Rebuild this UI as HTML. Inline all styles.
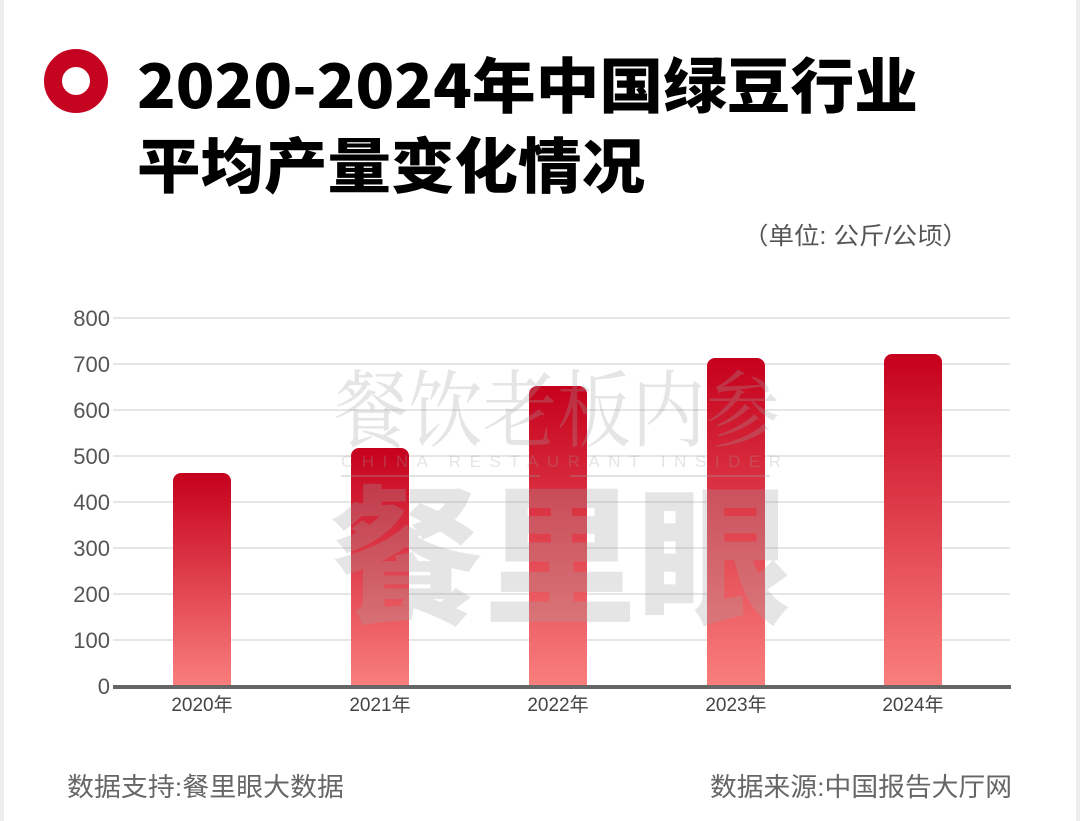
<!DOCTYPE html>
<html><head><meta charset="utf-8"><style>
html,body{margin:0;padding:0;background:#fff;}
svg{display:block;}
text{font-family:"Liberation Sans","Noto Sans CJK SC",sans-serif;}
</style></head><body>
<svg width="1080" height="821" viewBox="0 0 1080 821" xmlns="http://www.w3.org/2000/svg">
<defs>
<linearGradient id="g" x1="0" y1="0" x2="0" y2="1">
<stop offset="0" stop-color="#c6001c"/>
<stop offset="1" stop-color="#f97f7d"/>
</linearGradient>
</defs>
<rect width="1080" height="821" fill="#fff"/>
<rect x="0" y="0" width="4" height="821" fill="#eeeeee"/>
<rect x="1076" y="0" width="4" height="821" fill="#eeeeee"/>
<circle cx="76" cy="81" r="23" fill="none" stroke="#c50422" stroke-width="18"/>
<text x="137" y="108" font-size="60" font-weight="900" fill="#000" textLength="781" lengthAdjust="spacingAndGlyphs" style="font-family:'Noto Sans CJK SC',sans-serif">2020-2024年中国绿豆行业</text>
<text x="137" y="188" font-size="60" font-weight="900" fill="#000" textLength="508" lengthAdjust="spacingAndGlyphs" style="font-family:'Noto Sans CJK SC',sans-serif">平均产量变化情况</text>
<text x="968" y="244" font-size="24" fill="#555" text-anchor="end" textLength="225" lengthAdjust="spacingAndGlyphs">（单位: 公斤/公顷）</text>
<g stroke="#dddddd" stroke-width="1.5">
<line x1="113" y1="318" x2="1010" y2="318"/>
<line x1="113" y1="364" x2="1010" y2="364"/>
<line x1="113" y1="410" x2="1010" y2="410"/>
<line x1="113" y1="456" x2="1010" y2="456"/>
<line x1="113" y1="502" x2="1010" y2="502"/>
<line x1="113" y1="548" x2="1010" y2="548"/>
<line x1="113" y1="594" x2="1010" y2="594"/>
<line x1="113" y1="640" x2="1010" y2="640"/>
</g>
<g font-size="22" fill="#555" text-anchor="end">
<text x="110" y="326">800</text><text x="110" y="372">700</text><text x="110" y="418">600</text>
<text x="110" y="464">500</text><text x="110" y="510">400</text><text x="110" y="556">300</text>
<text x="110" y="602">200</text><text x="110" y="648">100</text><text x="110" y="694">0</text>
</g>
<path d="M173,686 V481 a8,8 0 0 1 8,-8 H223 a8,8 0 0 1 8,8 V686Z" fill="url(#g)"/>
<path d="M351,686 V456 a8,8 0 0 1 8,-8 H401 a8,8 0 0 1 8,8 V686Z" fill="url(#g)"/>
<path d="M529,686 V394 a8,8 0 0 1 8,-8 H579 a8,8 0 0 1 8,8 V686Z" fill="url(#g)"/>
<path d="M707,686 V366 a8,8 0 0 1 8,-8 H757 a8,8 0 0 1 8,8 V686Z" fill="url(#g)"/>
<path d="M884,686 V362 a8,8 0 0 1 8,-8 H934 a8,8 0 0 1 8,8 V686Z" fill="url(#g)"/>
<g fill="rgba(160,160,160,0.28)">
<text x="334" y="440" font-size="84" textLength="446" lengthAdjust="spacingAndGlyphs" style="font-family:'Noto Serif CJK SC',serif">餐饮老板内参</text>
<text x="341" y="467" font-size="17" textLength="440" lengthAdjust="spacing">CHINA RESTAURANT INSIDER</text>
<text x="330" y="612" font-size="150" font-weight="900" textLength="460" lengthAdjust="spacingAndGlyphs" style="font-family:'Noto Sans CJK SC',sans-serif">餐里眼</text>
</g>
<g stroke="rgba(160,160,160,0.4)" stroke-width="1.5"><line x1="341" y1="476" x2="540" y2="476"/><line x1="570" y1="476" x2="770" y2="476"/></g>
<rect x="113" y="685" width="898" height="4" fill="#666"/>
<g font-size="19" fill="#444" text-anchor="middle">
<text x="202" y="711">2020年</text><text x="380" y="711">2021年</text><text x="558" y="711">2022年</text>
<text x="736" y="711">2023年</text><text x="913" y="711">2024年</text>
</g>
<text x="67" y="796" font-size="26" fill="#666" textLength="277" lengthAdjust="spacingAndGlyphs">数据支持:餐里眼大数据</text>
<text x="1012" y="796" font-size="26" fill="#666" text-anchor="end" textLength="302" lengthAdjust="spacingAndGlyphs">数据来源:中国报告大厅网</text>
</svg>
</body></html>
